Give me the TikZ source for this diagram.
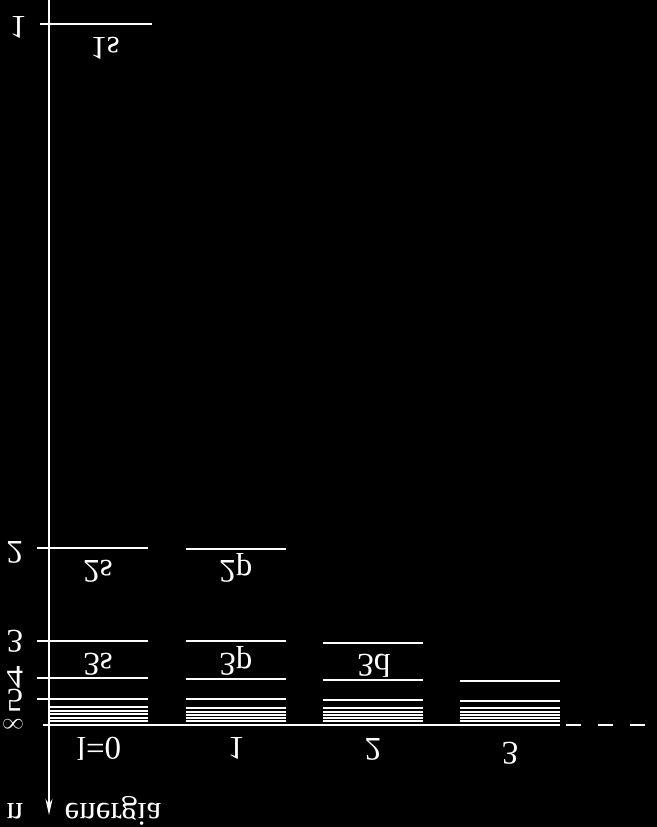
\documentclass[tikz,border=0pt]{standalone}
\usepackage{fontspec}
\setmainfont{Liberation Serif}
\usetikzlibrary{arrows.meta}
\tikzset{
  level/.style={draw=white,line width=1pt},
  flip/.style={text=white,yscale=-1,inner sep=0pt,
    font=\fontsize{16.5}{20}\selectfont,text height=0.66em,text depth=0pt},
}
\begin{document}
\begin{tikzpicture}[x=0.5pt,y=-0.5pt]
  \useasboundingbox (0,0) rectangle (657,827);
  \fill[black] (0,0) rectangle (657,827);
  % energy axis
  \coordinate (top) at (49,0);
  \coordinate (tip) at (49,815);
  \draw[white,line width=0.8pt,-{Stealth[length=8pt,width=3.5pt]}] (top) -- (tip);
  \path
    (15,810) node[flip] (n) {n}
    (113,810) node[flip] (en) {energia};
  % principal quantum number
  \path
    (18,23) node[flip] (n1) {1}
    (15,548) node[flip] (n2) {2}
    (15,637) node[flip] (n3) {3}
    (15,673) node[flip] (n4) {4}
    (15,696) node[flip] (n5) {5}
    (13,724) node[flip,font=\fontsize{11}{13}\selectfont,text height=0.45em] (ninf) {$\infty$};
  % ionisation limit
  \coordinate (b0) at (43,725);
  \coordinate (b1) at (560,725);
  \coordinate (b2) at (566,725);
  \coordinate (b3) at (645,725);
  \draw[level] (b0) -- (b1);
  \draw[level,dash pattern=on 7.5pt off 8.5pt] (b2) -- (b3);
  % l = 0
  \draw[level] (40,24) -- (152,24);
  \foreach \y in {548,641,678,699}
    \draw[level] (37,\y) -- (148,\y);
  \foreach \y in {707,710.5,714,717.5,721}
    \draw[level] (48,\y) -- (148,\y);
  % l = 1, 2, 3
  \foreach \a/\b/\ys in {186/286/{549,641,679,699},323/423/{643,680,700},460/560/{681,701}} {
    \foreach \y in \ys
      \draw[level] (\a,\y) -- (\b,\y);
    \foreach \y in {708,711.5,715,718,721}
      \draw[level] (\a,\y) -- (\b,\y);
  }
  % orbitals
  \path
    (105,44) node[flip] (s1) {1s}
    (98,567) node[flip] (s2) {2s}
    (236,567) node[flip] (p2) {2p}
    (98,660) node[flip] (s3) {3s}
    (236,660) node[flip] (p3) {3p}
    (374,661) node[flip] (d3) {3d};
  % angular momentum
  \path
    (99,744) node[flip] (l0) {l=0}
    (236,744) node[flip] (l1) {1}
    (373,745) node[flip] (l2) {2}
    (510,749) node[flip] (l3) {3};
\end{tikzpicture}
\end{document}
